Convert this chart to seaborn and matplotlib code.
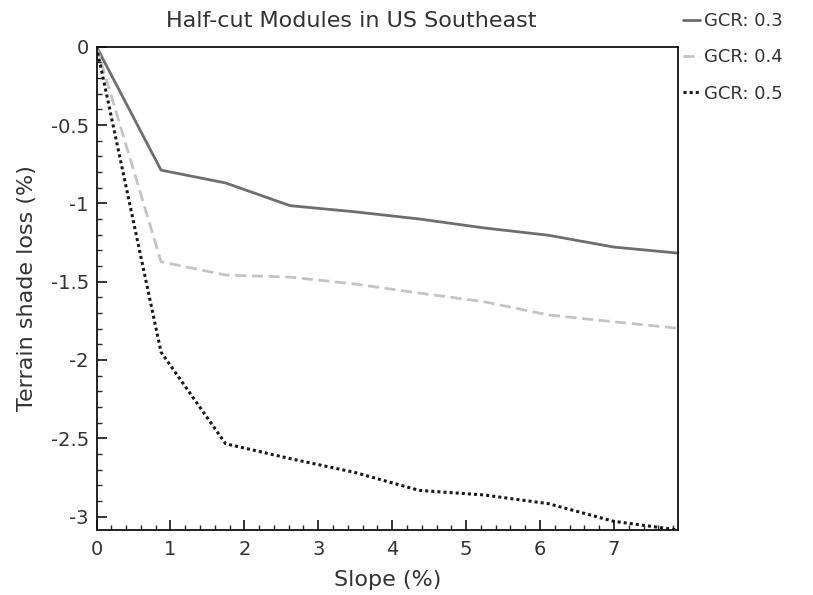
import numpy as np
import pandas as pd
import matplotlib
matplotlib.use("Agg")
import matplotlib.pyplot as plt
import seaborn as sns
from matplotlib.ticker import MultipleLocator, FuncFormatter

slope = [0.0, 0.873, 1.746, 2.619, 3.492, 4.366, 5.241, 6.116, 6.993, 7.870]
gcr_03 = [0.0, -0.788, -0.870, -1.015, -1.054, -1.100, -1.157, -1.204, -1.279, -1.318]
gcr_04 = [0.0, -1.373, -1.458, -1.471, -1.515, -1.573, -1.628, -1.713, -1.756, -1.798]
gcr_05 = [0.0, -1.950, -2.535, -2.630, -2.718, -2.833, -2.862, -2.918, -3.030, -3.086]
labels = ["GCR: 0.3", "GCR: 0.4", "GCR: 0.5"]

sns.set_style("ticks")
plt.rcParams["font.family"] = ["DejaVu Sans"]

df = pd.DataFrame({
    "Slope": slope * 3,
    "Loss": gcr_03 + gcr_04 + gcr_05,
    "GCR": [labels[0]] * len(slope) + [labels[1]] * len(slope) + [labels[2]] * len(slope),
})

fig = plt.figure(figsize=(8.13, 5.95), dpi=100)
ax = fig.add_axes([0.1187, 0.1092, 0.7156, 0.8123])

styles = {
    labels[0]: dict(color="#6e6e6e", ls="-", lw=2.0),
    labels[1]: dict(color="#c4c4c4", ls=(0, (4, 2)), lw=2.0),
    labels[2]: dict(color="#1a1a1a", ls=(0, (1, 1)), lw=2.2),
}
for lab in labels:
    sub = df[df["GCR"] == lab]
    sns.lineplot(data=sub, x="Slope", y="Loss", ax=ax, label=lab,
                 color=styles[lab]["color"], linestyle=styles[lab]["ls"],
                 linewidth=styles[lab]["lw"])

ax.set_xlim(0, slope[-1])
ax.set_ylim(min(gcr_05), 0)
ax.xaxis.set_major_locator(MultipleLocator(1))
ax.xaxis.set_minor_locator(MultipleLocator(0.2))
ax.yaxis.set_major_locator(MultipleLocator(0.5))
ax.yaxis.set_minor_locator(MultipleLocator(0.1))
ax.yaxis.set_major_formatter(FuncFormatter(lambda v, p: f"{v:g}"))
ax.tick_params(which="major", direction="in", length=7, width=1.2, labelsize=14,
               colors="#111111", labelcolor="#333333", pad=5.5,
               top=False, right=False)
ax.tick_params(axis="x", which="major", pad=7)
ax.tick_params(which="minor", direction="in", length=3.5, width=1.0,
               top=False, right=False)
for s in ax.spines.values():
    s.set_visible(True)
    s.set_linewidth(1.3)
    s.set_color("#111111")

ax.set_xlabel("Slope (%)", fontsize=16, color="#333333", labelpad=8)
ax.set_ylabel("Terrain shade loss (%)", fontsize=16, color="#333333", labelpad=10)
ax.set_title("Half-cut Modules in US Southeast", fontsize=16, color="#333333",
             pad=14, x=0.4377)

ax.get_legend().remove()
h, l = ax.get_legend_handles_labels()
fig.legend(h, l, loc="upper left", bbox_to_anchor=(0.831, 0.992), frameon=False,
           borderaxespad=0, fontsize=13, handlelength=0.95, handletextpad=0.2,
           labelspacing=1.02, labelcolor="#333333")

fig.savefig("out.png", dpi=100)
